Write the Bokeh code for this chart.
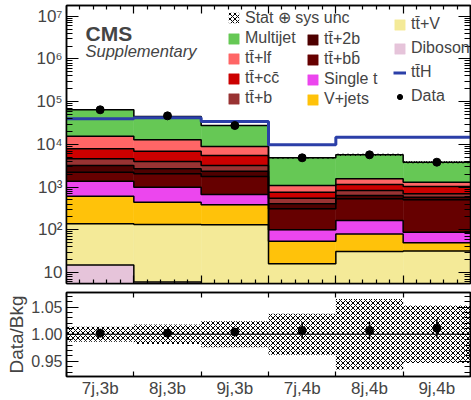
import numpy as np
from math import pi
from bokeh.plotting import figure
from bokeh.models import (Range1d, FixedTicker, LinearAxis, LogAxis, Legend, LegendItem,
                          Label, Span, NumeralTickFormatter)
from bokeh.layouts import column
from bokeh.embed import file_html
from bokeh.resources import INLINE

FONT = "Liberation Sans"

# ---------------- data ----------------
categories = ["7j,3b", "8j,3b", "9j,3b", "7j,4b", "8j,4b", "9j,4b"]
diboson = [15, 6, 4, 1, 1, 1]
ttv = [123, 127, 127, 15, 30, 31]
vjets = [474, 310, 254, 38, 49, 18]
single_t = [763, 552, 286, 46, 85, 38]
ttbb = [859, 1052, 1099, 209, 367, 417]
tt2b = [972, 637, 585, 97, 103, 75]
ttb = [1396, 1296, 851, 144, 197, 117]
ttcc = [3288, 2960, 2294, 210, 318, 336]
ttlf = [7670, 5890, 3430, 330, 413, 269]
multijet = [49040, 32140, 18770, 3760, 4137, 2528]
tth = [39800, 42000, 34600, 9770, 14760, 14760]
data = [64600, 46600, 27700, 4850, 5700, 3830]
data_err = [254, 216, 166, 70, 75, 62]
unc_rel = [0.014, 0.018, 0.024, 0.038, 0.065, 0.053]
ratio = [1.002, 1.002, 1.004, 1.007, 1.007, 1.011]
ratio_err = [0.003, 0.003, 0.004, 0.015, 0.016, 0.017]

decades = [10, 100, 1000, 10000, 100000, 1000000, 10000000]
decade_labels = ["10", "10\u00b2", "10\u00b3", "10\u2074", "10\u2075", "10\u2076", "10\u2077"]
ratio_ticks = [0.95, 1.00, 1.05]

TT = "t t\u0304".replace(" ", "")
names = {
    "Diboson": "Diboson", "ttV": TT + "+V", "Vjets": "V+jets", "st": "Single t",
    "ttbb": TT + "+bb\u0304", "tt2b": TT + "+2b", "ttb": TT + "+b",
    "ttcc": TT + "+cc\u0304", "ttlf": TT + "+lf", "mj": "Multijet",
}
layers = [
    ("Diboson", diboson, "#e6c4da"),
    ("ttV", ttv, "#f4ea98"),
    ("Vjets", vjets, "#ffc20a"),
    ("st", single_t, "#ec46ee"),
    ("ttbb", ttbb, "#660000"),
    ("tt2b", tt2b, "#4e0000"),
    ("ttb", ttb, "#993333"),
    ("ttcc", ttcc, "#cc0000"),
    ("ttlf", ttlf, "#ff6666"),
    ("mj", multijet, "#66c855"),
]
TTH_COLOR = "#2b3fa8"

n = len(categories)
edges = list(range(n + 1))
centers = [i + 0.5 for i in range(n)]
x_minor = [i + j / 5 for i in range(n) for j in range(1, 5)]
log_minor = [m * 10 ** k for k in range(0, 8) for m in range(2, 10)]
r_minor = [round(0.92 + 0.01 * i, 2) for i in range(17)]

Y_MIN, Y_MAX = 10 ** 0.742, 10 ** 7.253


def style_ticks(axis, ticks, minor, major_in, minor_in, labels=False):
    axis.ticker = FixedTicker(ticks=ticks, minor_ticks=minor)
    if not labels:
        axis.major_label_text_font_size = "1px"
        axis.major_label_text_color = None
        axis.major_label_standoff = 0
    axis.major_tick_in = major_in
    axis.major_tick_out = 0
    axis.minor_tick_in = minor_in
    axis.minor_tick_out = 0
    axis.axis_line_width = 1.5
    axis.major_tick_line_width = 1.2
    axis.minor_tick_line_width = 1.2


# ---------------- top panel ----------------
p1 = figure(width=471, height=285, x_range=Range1d(0, n), y_range=Range1d(Y_MIN, Y_MAX),
            y_axis_type="log", output_backend="svg", toolbar_location=None,
            min_border_left=66, min_border_right=1, min_border_top=5, min_border_bottom=2)
p1.grid.visible = False
p1.outline_line_color = "black"
p1.outline_line_width = 1.5

style_ticks(p1.xaxis[0], edges, x_minor, 8, 4)
style_ticks(p1.yaxis[0], decades, log_minor, 12, 6, labels=True)
p1.yaxis[0].major_label_overrides = dict(zip(decades, decade_labels))
p1.yaxis[0].major_label_text_font = FONT
p1.yaxis[0].major_label_text_font_size = "17px"
p1.yaxis[0].major_label_standoff = 4

top_ax = LinearAxis()
style_ticks(top_ax, edges, x_minor, 8, 4)
p1.add_layout(top_ax, "above")
right_ax = LogAxis()
style_ticks(right_ax, decades, log_minor, 12, 6)
p1.add_layout(right_ax, "right")

vals = np.array([l[1] for l in layers], dtype=float)
cum = np.cumsum(vals, axis=0)
bottoms = np.vstack([np.full(n, 1e-3), cum[:-1]])

legend_r = {}
for (key, _, color), b, t in zip(layers, bottoms, cum):
    legend_r[key] = p1.quad(left=edges[:-1], right=edges[1:], bottom=b, top=t,
                            fill_color=color, line_color=color, line_width=0.5)
for t in cum:
    p1.step(x=edges, y=list(t) + [t[-1]], mode="after", line_color="black", line_width=1.5)

total = cum[-1]
unc = np.array(unc_rel)
unc_r = p1.quad(left=edges[:-1], right=edges[1:], bottom=total * (1 - unc), top=total * (1 + unc),
                fill_alpha=0, line_color=None, hatch_pattern="diagonal_cross", hatch_scale=5,
                hatch_weight=1, hatch_color="black")

tth_r = p1.step(x=edges, y=tth + [tth[-1]], mode="after", line_color=TTH_COLOR, line_width=3)

dat = np.array(data, dtype=float)
derr = np.array(data_err, dtype=float)
p1.segment(x0=centers, x1=centers, y0=dat - derr, y1=dat + derr, line_color="black", line_width=1.5)
data_r = p1.scatter(x=centers, y=data, size=8, color="black")


def make_legend(items, loc, spacing):
    lg = Legend(items=items, location=loc, orientation="vertical",
                border_line_color=None, background_fill_alpha=0, padding=0, margin=0,
                spacing=spacing, label_standoff=5, glyph_width=13, glyph_height=13,
                label_height=13, label_text_font=FONT, label_text_font_size="16px")
    p1.add_layout(lg)
    return lg

make_legend([
    LegendItem(label="Stat \u2295 sys unc", renderers=[unc_r]),
    LegendItem(label=names["mj"], renderers=[legend_r["mj"]]),
    LegendItem(label=names["ttlf"], renderers=[legend_r["ttlf"]]),
    LegendItem(label=names["ttcc"], renderers=[legend_r["ttcc"]]),
    LegendItem(label=names["ttb"], renderers=[legend_r["ttb"]]),
], (161, 176), 2)
make_legend([
    LegendItem(label=names["tt2b"], renderers=[legend_r["tt2b"]]),
    LegendItem(label=names["ttbb"], renderers=[legend_r["ttbb"]]),
    LegendItem(label=names["st"], renderers=[legend_r["st"]]),
    LegendItem(label=names["Vjets"], renderers=[legend_r["Vjets"]]),
], (240, 175), 2)
make_legend([
    LegendItem(label=names["ttV"], renderers=[legend_r["ttV"]]),
    LegendItem(label=names["Diboson"], renderers=[legend_r["Diboson"]]),
    LegendItem(label=TT + "H", renderers=[tth_r]),
    LegendItem(label="Data", renderers=[data_r]),
], (327, 178), 6)

p1.add_layout(Label(x=0.282, y=3.95e6, text="CMS", text_font=FONT, text_font_style="bold",
                    text_font_size="21px", text_baseline="alphabetic"))
p1.add_layout(Label(x=0.282, y=1.5e6, text="Supplementary", text_font=FONT,
                    text_font_style="italic", text_font_size="16.5px", text_baseline="alphabetic"))
p1.add_layout(Label(x=-0.624, y=Y_MAX, text="Events / category", angle=pi / 2,
                    text_align="right", text_baseline="alphabetic", text_font=FONT,
                    text_font_size="23px"))

# ---------------- ratio panel ----------------
p2 = figure(width=471, height=115, x_range=p1.x_range, y_range=Range1d(0.922, 1.077),
            output_backend="svg", toolbar_location=None,
            min_border_left=66, min_border_right=1, min_border_top=7, min_border_bottom=23)
p2.grid.visible = False
p2.outline_line_color = "black"
p2.outline_line_width = 1.5

style_ticks(p2.xaxis[0], edges, [], 5, 0)
style_ticks(p2.yaxis[0], ratio_ticks, r_minor, 12, 6, labels=True)
p2.yaxis[0].formatter = NumeralTickFormatter(format="0.00")
p2.yaxis[0].major_label_text_font = FONT
p2.yaxis[0].major_label_text_font_size = "16px"
p2.yaxis[0].major_label_standoff = 4
p2.yaxis[0].axis_label = "Data/Bkg"
p2.yaxis[0].axis_label_text_font = FONT
p2.yaxis[0].axis_label_text_font_size = "19px"
p2.yaxis[0].axis_label_text_font_style = "normal"
p2.yaxis[0].axis_label_standoff = 1

lab_ax = LinearAxis(ticker=FixedTicker(ticks=centers, minor_ticks=[]),
                    major_label_overrides=dict(zip(centers, categories)),
                    major_tick_in=0, major_tick_out=0, minor_tick_in=0, minor_tick_out=0,
                    axis_line_color=None, major_label_text_font=FONT,
                    major_label_text_font_size="17px", major_label_standoff=2)
p2.add_layout(lab_ax, "below")
top2 = LinearAxis()
style_ticks(top2, edges, [], 5, 0)
p2.add_layout(top2, "above")
right2 = LinearAxis()
style_ticks(right2, ratio_ticks, r_minor, 12, 6)
p2.add_layout(right2, "right")

p2.quad(left=edges[:-1], right=edges[1:], bottom=1 - unc, top=1 + unc,
        fill_alpha=0, line_color=None, hatch_pattern="diagonal_cross", hatch_scale=5,
        hatch_weight=1, hatch_color="black")
p2.add_layout(Span(location=1.0, dimension="width", line_color="black", line_width=1))
rat = np.array(ratio)
rerr = np.array(ratio_err)
p2.segment(x0=centers, x1=centers, y0=rat - rerr, y1=rat + rerr, line_color="black", line_width=1.5)
p2.scatter(x=centers, y=ratio, size=8, color="black")

layout = column(p1, p2)
open("out.html", "w").write(file_html(layout, INLINE))
